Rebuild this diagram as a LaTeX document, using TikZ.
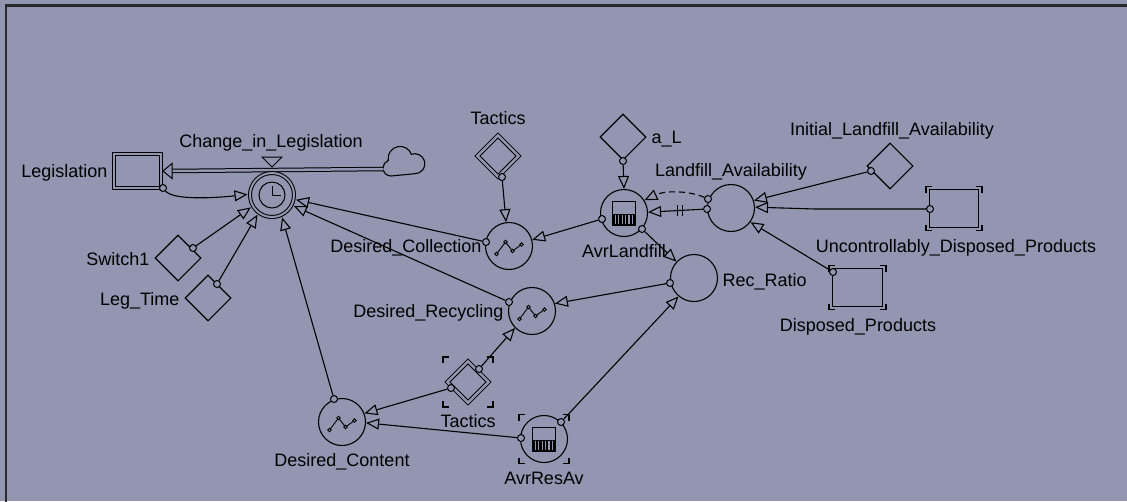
\documentclass[tikz,border=0pt]{standalone}
\usepackage{fontspec}
\setmainfont{Liberation Sans}
\usetikzlibrary{shapes.geometric,arrows.meta,calc}
\definecolor{canvas}{RGB}{146,150,176}
\definecolor{framecol}{RGB}{42,42,46}

% corner brackets marking a ghost (alias) element
\newcommand\ghostbox[3]{%
  \draw[ghostln] ($(#1.center)+(-#2,-#3+6)$) -- ++(0,-6) -- ++(6,0);
  \draw[ghostln] ($(#1.center)+(-#2,#3-6)$) -- ++(0,6) -- ++(6,0);
  \draw[ghostln] ($(#1.center)+(#2-6,#3)$) -- ++(6,0) -- ++(0,-6);
  \draw[ghostln] ($(#1.center)+(#2-6,-#3)$) -- ++(6,0) -- ++(0,6);
}

\tikzset{
  graphicon/.pic={
    \draw[line width=0.9pt] (-12.5,-8) -- (-3.5,4) -- (3.5,-5) -- (12.5,1.5);
    \foreach \p in {(-12.5,-8),(-3.5,4),(3.5,-5),(12.5,1.5)}
      \draw[line width=0.8pt, fill=canvas] \p circle[radius=1.8];
  },
  tableicon/.pic={
    \fill (-11.5,-12) rectangle (11.5,-1);
    \foreach \x in {-8.6,-5.2,-1.8,1.6,5,8.4}
      \draw[canvas, line width=1.2pt] (\x,-10.8) -- (\x,-2.2);
    \draw[line width=1.3pt] (-11.5,-12) rectangle (11.5,11.5);
  },
}

\begin{document}
\begin{tikzpicture}[x=1pt,y=1pt,line width=1.1pt,
  lbl/.style={inner sep=0pt, font=\fontsize{18}{20}\selectfont},
  auxv/.style={circle, draw, minimum size=47pt, inner sep=0pt},
  conv/.style={diamond, draw, minimum width=46pt, minimum height=46pt, inner sep=0pt},
  ghostconv/.style={diamond, draw, double=canvas, double distance=2.5pt, line width=1pt,
    minimum width=41.5pt, minimum height=41.5pt, inner sep=0pt},
  stockbox/.style={rectangle, draw, inner sep=0pt},
  port/.style={circle, draw, fill=canvas, minimum size=7pt, inner sep=0pt, line width=1pt},
  link/.style={-{Triangle[open, length=13pt, width=11pt]}},
  ghostln/.style={line width=1.5pt},
  pipe/.style={line width=1pt, double=canvas, double distance=2.5pt},
]
\useasboundingbox (0,0) rectangle (1127,-501);
\fill[canvas] (0,0) rectangle (1127,-501);
\draw[framecol, line width=2.6pt] (6,-503) -- (6,-5.2) -- (1130,-5.2);

% ---------------- stocks ----------------
\node[stockbox, double=canvas, double distance=2pt, line width=1pt,
      minimum width=47pt, minimum height=34pt] (leg) at (137.5,-171) {};
\node[lbl, anchor=base east] (leg-l) at (108,-177) {Legislation};

\node[stockbox, minimum width=49pt, minimum height=38pt] (udp) at (954,-208.5) {};
\ghostbox{udp}{28}{22}
\node[lbl, anchor=base] (udp-l) at (956,-252) {Uncontrollably\_Disposed\_Products};

\node[stockbox, minimum width=50pt, minimum height=38pt] (dp) at (857.5,-287.5) {};
\ghostbox{dp}{28.5}{22}
\node[lbl, anchor=base] (dp-l) at (858,-331) {Disposed\_Products};

% ---------------- flow ----------------
\draw[fill=canvas] (391,-176) arc[start angle=270, end angle=110, radius=8]
  arc[start angle=190, end angle=20, radius=12]
  arc[start angle=110, end angle=-90, radius=10] -- cycle;
\coordinate (src) at (383.5,-169);
\draw[pipe] (src) -- ($(leg.east)+(10.5,0)$);
\draw[line width=1pt, fill=canvas] ($(leg.east)+(1.5,0)$) -- ++(9,7.5) -- ++(0,-15) -- cycle;

\node[circle, draw, double=canvas, double distance=2pt, line width=1pt,
      minimum size=44pt, inner sep=0pt] (valve) at (272,-195) {};
\draw[line width=1pt] (valve.center) circle[radius=13];
\draw[line width=1pt] ($(valve.center)+(0,9)$) -- (valve.center) -- ++(9,0);
\draw[line width=1pt, fill=canvas] (262,-157) -- (282,-157) -- (272,-167) -- cycle;
\node[lbl, anchor=base] (valve-l) at (271,-147) {Change\_in\_Legislation};

% ---------------- converters ----------------
\node[conv] (sw1) at (178,-258) {};
\node[lbl, anchor=base east] (sw1-l) at (150,-265) {Switch1};
\node[conv] (legt) at (208,-298) {};
\node[lbl, anchor=base east] (legt-l) at (180,-305) {Leg\_Time};
\node[conv] (al) at (623,-137) {};
\node[lbl, anchor=base west] (al-l) at (651,-143) {a\_L};
\node[conv] (ila) at (890,-166) {};
\node[lbl, anchor=base] (ila-l) at (892,-135) {Initial\_Landfill\_Availability};

\node[ghostconv] (tac) at (498,-156) {};
\node[lbl, anchor=base] (tac-l) at (498,-124) {Tactics};
\node[ghostconv] (tac2) at (468,-382) {};
\ghostbox{tac2}{25}{25}
\node[lbl, anchor=base] (tac2-l) at (468,-427) {Tactics};

% ---------------- auxiliaries ----------------
\node[auxv] (dcoll) at (509,-246) {};
\pic at (dcoll.center) {graphicon};
\node[lbl, anchor=base east] (dcoll-l) at (482,-252) {Desired\_Collection};

\node[auxv] (drec) at (532,-311) {};
\pic at (drec.center) {graphicon};
\node[lbl, anchor=base east] (drec-l) at (504,-317) {Desired\_Recycling};

\node[auxv] (dcont) at (342,-422) {};
\pic at (dcont.center) {graphicon};
\node[lbl, anchor=base] (dcont-l) at (342,-466) {Desired\_Content};

\node[auxv] (avl) at (624,-213) {};
\pic at (avl.center) {tableicon};
\node[lbl, anchor=base] (avl-l) at (624,-257) {AvrLandfill};

\node[auxv] (avr) at (544,-439) {};
\pic at (avr.center) {tableicon};
\ghostbox{avr}{25}{24.5}
\node[lbl, anchor=base] (avr-l) at (544,-484) {AvrResAv};

\node[auxv] (la) at (731,-208) {};
\node[lbl, anchor=base] (la-l) at (731,-176) {Landfill\_Availability};

\node[auxv] (rec) at (694,-278) {};
\node[lbl, anchor=base west] (rec-l) at (722,-286) {Rec\_Ratio};

% ---------------- connector origins ----------------
\node[port] (legp)   at (163,-188) {};
\node[port] (sw1p)   at (193,-248) {};
\node[port] (legtp)  at (217,-284) {};
\node[port] (tacp)   at (502,-177) {};
\node[port] (dcollp) at (486,-242) {};
\node[port] (drecp)  at (509,-302) {};
\node[port] (dcontp) at (334,-399) {};
\node[port] (tac2pa) at (479,-369) {};
\node[port] (tac2pb) at (451,-388) {};
\node[port] (avrpa)  at (521,-438) {};
\node[port] (avrpb)  at (561,-422) {};
\node[port] (alp)    at (623,-161) {};
\node[port] (avlpa)  at (602,-219) {};
\node[port] (avlpb)  at (642,-229) {};
\node[port] (lapa)   at (708,-199) {};
\node[port] (lapb)   at (707,-209) {};
\node[port] (ilap)   at (871,-171) {};
\node[port] (udpp)   at (930,-209) {};
\node[port] (dpp)    at (833,-272) {};
\node[port] (recp)   at (670,-283) {};

% ---------------- connectors ----------------
\draw[link, shorten >=2pt] (legp) .. controls (172,-199) and (205,-199) .. (valve.178);
\draw[link, shorten >=2pt] (sw1p) -- (valve.210);
\draw[link, shorten >=2pt] (legtp) -- (valve.233);
\draw[link, shorten >=2pt] (dcontp) -- (valve.295);
\draw[link, shorten >=2pt] (dcollp) -- (valve.349);
\draw[link, shorten >=2pt] (drecp) -- (valve.333);

\draw[link] (tacp) -- (dcoll.97);
\draw[link] (alp) -- (avl.north);
\draw[link] (avlpa) -- (dcoll.15);
\draw[link] (avlpb) -- (rec.137);
\draw[link, dash pattern=on 6pt off 4pt] (lapa) .. controls (690,-191) and (666,-190) .. (avl.32);
\draw[link] (lapb) -- (avl.2);
\draw[line width=1pt] ($(lapb)!0.42!(avl.2)+(0,-5.5)$) -- ++(0,11);
\draw[line width=1pt] ($(lapb)!0.5!(avl.2)+(0,-5.5)$) -- ++(0,11);
\draw[link] (ilap) -- (la.18);
\draw[link] (udpp) -- ++(-115,0) -- (la.2);
\draw[link] (dpp) -- (la.324);
\draw[link] (recp) -- (drec.18);
\draw[link] (avrpb) -- (rec.230);
\draw[link] (avrpa) -- (dcont.358);
\draw[link] (tac2pa) -- (drec.225);
\draw[link] (tac2pb) -- (dcont.21);
\end{tikzpicture}
\end{document}
